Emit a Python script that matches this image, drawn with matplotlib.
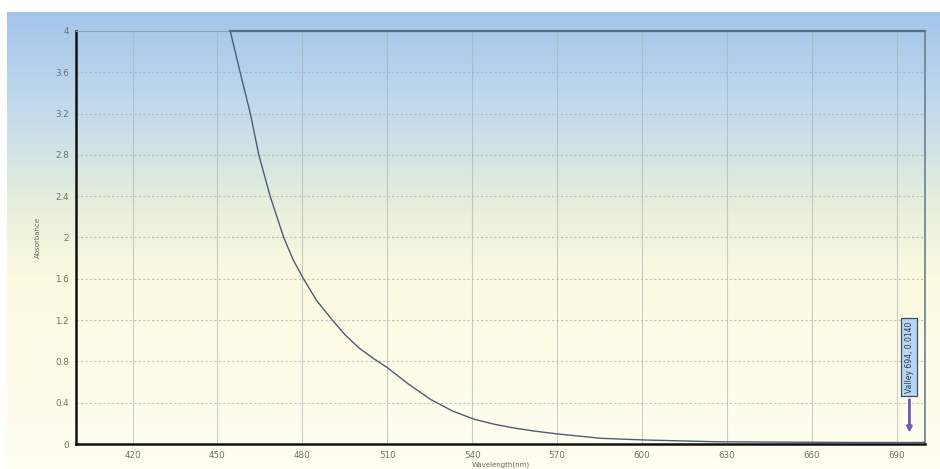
import numpy as np
import matplotlib
matplotlib.use("Agg")
import matplotlib.pyplot as plt
from matplotlib.colors import LinearSegmentedColormap

# Data
wavelength = [454.5, 458.0, 461.6, 464.6, 468.6, 473.4, 476.8, 480.4, 485.0, 490.6,
              495.0, 500.0, 505.0, 510.0, 517.0, 525.4, 533.0, 540.7, 548.0, 554.8,
              562.0, 570.3, 585.6, 600.9, 625.6, 649.0, 675.0, 694.0, 700.0]
absorbance = [4.0, 3.6, 3.2, 2.8, 2.4, 2.0, 1.78, 1.6, 1.39, 1.2,
              1.06, 0.93, 0.83, 0.74, 0.59, 0.43, 0.32, 0.24, 0.19, 0.155,
              0.125, 0.097, 0.055, 0.039, 0.022, 0.018, 0.015, 0.014, 0.015]
x_ticks = [420, 450, 480, 510, 540, 570, 600, 630, 660, 690]
y_ticks = [0, 0.4, 0.8, 1.2, 1.6, 2.0, 2.4, 2.8, 3.2, 3.6, 4.0]
y_tick_labels = ["0", "0.4", "0.8", "1.2", "1.6", "2", "2.4", "2.8", "3.2", "3.6", "4"]
valley_label = "Valley 694, 0.0140"
valley_x, valley_y = 694.0, 0.014

W, H = 940, 469
fig = plt.figure(figsize=(W / 100, H / 100), dpi=100)
fig.patch.set_facecolor("white")

# gradient background
bg = fig.add_axes([7 / W, 0, 1 - 7 / W, (H - 12) / H])
bg.axis("off")
cmap = LinearSegmentedColormap.from_list(
    "bg", [(0.0, "#a3c5ec"), (0.22, "#c3dbeb"), (0.42, "#e6efdc"),
           (0.58, "#fcfae0"), (1.0, "#fffff2")])
grad = np.linspace(0, 1, 256).reshape(-1, 1)
bg.imshow(grad, aspect="auto", cmap=cmap, extent=[0, 1, 0, 1], origin="upper")
bg.set_xlim(0, 1)
bg.set_ylim(0, 1)

ax = fig.add_axes([76 / W, 1 - 444 / H, (925 - 76) / W, (444 - 31) / H])
ax.patch.set_alpha(0)
ax.set_xlim(400, 700)
ax.set_ylim(0, 4)

ax.set_xticks(x_ticks)
ax.set_yticks(y_ticks)
ax.set_yticklabels(y_tick_labels)
ax.tick_params(axis="both", length=0, labelsize=6.3, labelcolor="#707070", pad=5)

for xv in x_ticks:
    ax.axvline(xv, color="#a7aeb2", lw=0.8, alpha=0.6, zorder=1)
for yv in y_ticks[1:]:
    ax.axhline(yv, color="#a7aeb2", lw=0.8, ls=(0, (2, 2)), alpha=0.7, zorder=1)

ax.plot(wavelength, absorbance, color="#4d5d74", lw=1.0, zorder=3)
ax.plot([wavelength[0], 700], [4, 4], color="#55708a", lw=1.6, zorder=3, clip_on=False)

for s in ["left", "bottom"]:
    ax.spines[s].set_color("#111111")
    ax.spines[s].set_linewidth(1.8)
ax.spines["top"].set_color("#8fa6b8")
ax.spines["top"].set_linewidth(0.8)
ax.spines["right"].set_color("#6a7f90")
ax.spines["right"].set_linewidth(1.2)

ax.set_xlabel("Wavelength(nm)", fontsize=5, color="#666666", labelpad=1)
ax.set_ylabel("Absorbance", fontsize=5, color="#666666", labelpad=10)

ax.annotate(valley_label, xy=(valley_x + 0.5, valley_y + 0.07), xytext=(valley_x + 0.5, 0.84),
            rotation=90, fontsize=5.5, color="#1c3a66", ha="center", va="center",
            bbox=dict(boxstyle="square,pad=0.45", fc="#b9d6f0", ec="#3a4f66", lw=0.9),
            arrowprops=dict(arrowstyle="-|>", color="#6c5cb0", lw=2.0,
                            mutation_scale=7, fc="white"),
            zorder=5)

fig.savefig("out.png", dpi=100)
